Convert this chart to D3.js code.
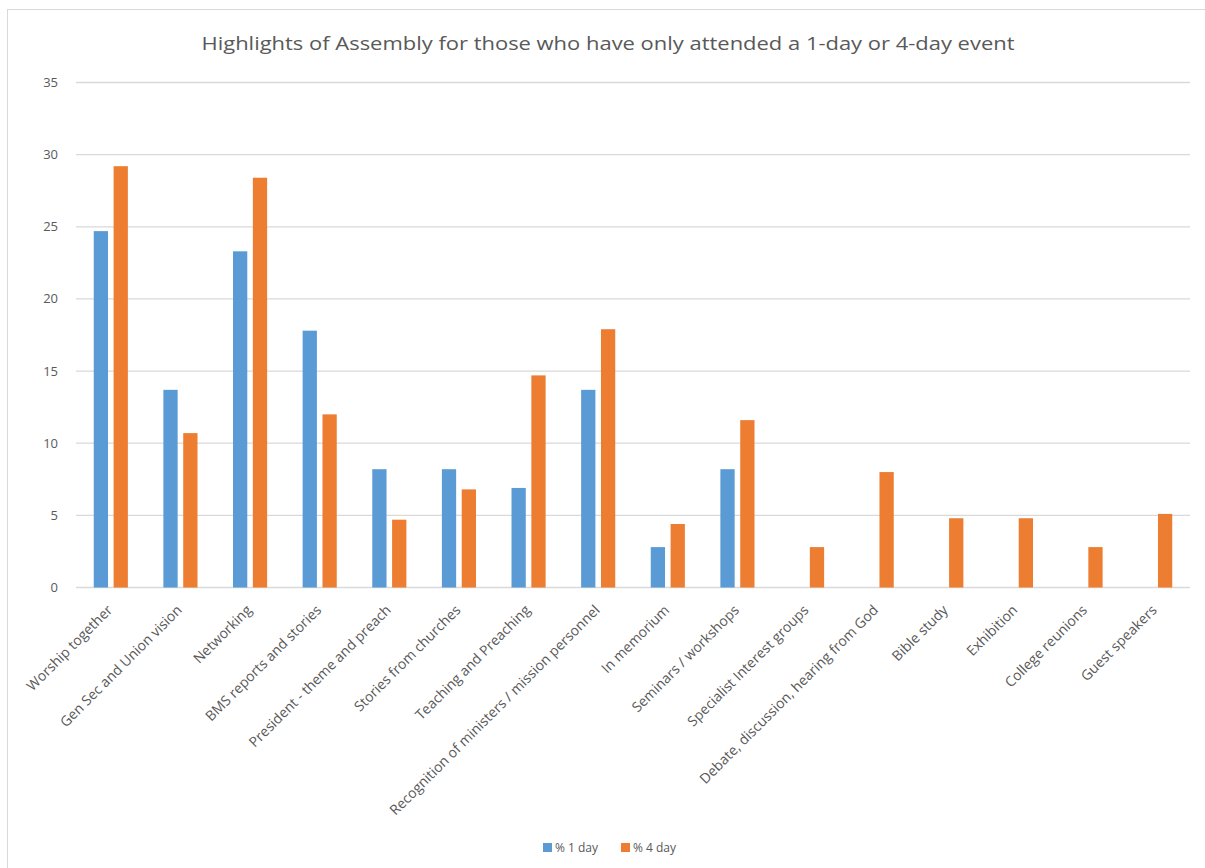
<!DOCTYPE html>
<html><head><meta charset="utf-8">
<script src="https://cdn.jsdelivr.net/npm/d3@7"></script>
<style>body{margin:0;background:#fff}svg{display:block;font-family:"Open Sans","Liberation Sans",sans-serif}</style>
</head><body>
<script>
const categories = ["Worship together","Gen Sec and Union vision","Networking","BMS reports and stories","President - theme and preach","Stories from churches","Teaching and Preaching","Recognition of ministers / mission personnel","In memorium","Seminars / workshops","Specialist Interest groups","Debate, discussion, hearing from God","Bible study","Exhibition","College reunions","Guest speakers"];
const oneDay  = [24.7,13.7,23.3,17.8,8.2,8.2,6.9,13.7,2.8,8.2,0,0,0,0,0,0];
const fourDay = [29.2,10.7,28.4,12.0,4.7,6.8,14.7,17.9,4.4,11.6,2.8,8.0,4.8,4.8,2.8,5.1];
const seriesNames = ["% 1 day","% 4 day"];
const seriesColors = ["#5B9BD5","#ED7D31"];
const yTicks = [0,5,10,15,20,25,30,35];
const title = "Highlights of Assembly  for those who have only attended a 1-day or 4-day event";

const W=1205,H=868;
const svg=d3.select("body").append("svg").attr("width",W).attr("height",H);
svg.append("rect").attr("x",7.5).attr("y",9.5).attr("width",W).attr("height",H).attr("fill","#fff").attr("stroke","#D9D9D9");

const x0=76,x1=1190,yTop=82.5,yBot=587.5;
const x=d3.scaleBand().domain(categories).range([x0,x1]);
const y=d3.scaleLinear().domain([0,35]).range([yBot,yTop]);
const bw=x.bandwidth();
const barW=bw*0.205, gap=bw*0.08;

svg.append("text").attr("x",608).attr("y",50).attr("text-anchor","middle")
 .attr("font-size",19).attr("fill","#595959").attr("textLength",813).attr("lengthAdjust","spacingAndGlyphs").text(title);

const g=svg.append("g");
g.selectAll("line.grid").data(yTicks).join("line").attr("class","grid")
 .attr("x1",x0).attr("x2",x1).attr("y1",d=>y(d)).attr("y2",d=>y(d))
 .attr("stroke","#D9D9D9").attr("stroke-width",1.3);
g.selectAll("text.yt").data(yTicks).join("text").attr("class","yt")
 .attr("x",58).attr("y",d=>y(d)).attr("dy","0.35em").attr("text-anchor","end")
 .attr("font-size",13).attr("fill","#595959").text(d=>d);

const series=[oneDay,fourDay];
series.forEach((vals,si)=>{
  g.selectAll("rect.s"+si).data(vals).join("rect").attr("class","s"+si)
   .attr("x",(d,i)=>x(categories[i])+bw/2-barW-gap/2+si*(barW+gap))
   .attr("y",d=>y(d)).attr("width",barW).attr("height",d=>y(0)-y(d))
   .attr("fill",seriesColors[si]);
});

g.selectAll("text.xl").data(categories).join("text").attr("class","xl")
 .attr("transform",d=>`translate(${x(d)+bw/2-1},${yBot+20}) rotate(-45)`)
 .attr("text-anchor","end").attr("dy","0.35em")
 .attr("font-size",14).attr("fill","#595959").text(d=>d);

const lg=svg.append("g");
const lx=[543,621];
seriesNames.forEach((n,i)=>{
  lg.append("rect").attr("x",lx[i]).attr("y",843).attr("width",9).attr("height",9).attr("fill",seriesColors[i]);
  lg.append("text").attr("x",lx[i]+12).attr("y",852).attr("font-size",12).attr("fill","#595959").text(n);
});
</script>
</body></html>
